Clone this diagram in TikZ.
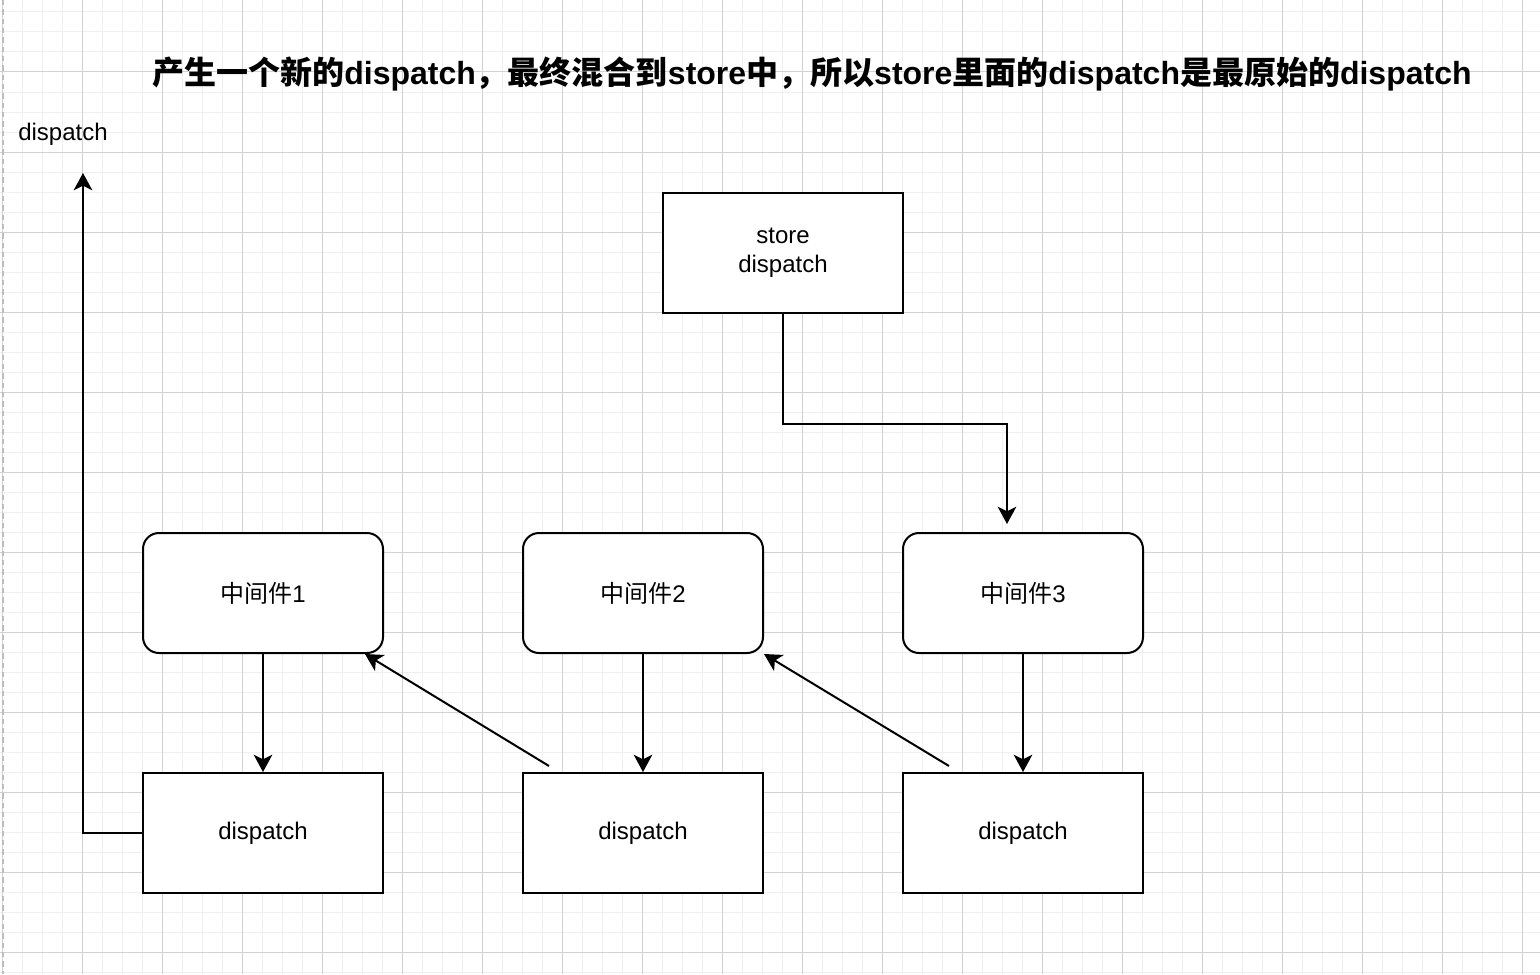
\documentclass[tikz,border=0pt]{standalone}
\usepackage{fontspec}
\setmainfont{Liberation Sans}
\newfontfamily\cjk{Noto Sans CJK SC}
\usetikzlibrary{arrows.meta}
\definecolor{gridminor}{HTML}{F0F0F0}
\definecolor{gridmajor}{HTML}{D2D2D2}
\definecolor{pageedge}{HTML}{BDBDBD}
\newcommand{\zh}[1]{{\cjk #1}}
\begin{document}
\begin{tikzpicture}[x=0.75pt,y=-0.75pt,
  box/.style={draw, line width=1.5pt, minimum width=180pt, minimum height=90pt,
    inner sep=0pt, font=\fontsize{18}{21.5}\selectfont, align=center, fill=white},
  mw/.style={box, rounded corners=12pt},
  arr/.style={line width=1.5pt, -{Stealth[length=13pt,width=14pt,inset=3.5pt]}},
  lbl/.style={font=\fontsize{18}{21.5}\selectfont, inner sep=0pt},
  ttl/.style={font=\fontsize{24}{28}\selectfont\bfseries, inner sep=0pt}
  ]
% background and grid
\fill[white] (0,0) rectangle (1540,974);
\useasboundingbox (0,0) rectangle (1540,974);
\foreach \x in {2,22,...,1540} \draw[gridminor, line width=0.75pt] (\x,0) -- (\x,974);
\foreach \y in {12,32,...,974} \draw[gridminor, line width=0.75pt] (0,\y) -- (1540,\y);
\foreach \x in {2,82,...,1540} \draw[gridmajor, line width=0.75pt] (\x,0) -- (\x,974);
\foreach \y in {72,152,...,974} \draw[gridmajor, line width=0.75pt] (0,\y) -- (1540,\y);
\draw[pageedge, line width=1.2pt, dash pattern=on 4pt off 3pt] (3,0) -- (3,974);

% title
\node[ttl] (title) at (812,74) {\zh{产生一个新的}dispatch\zh{，最终混合到}store\zh{中，所以}store\zh{里面的}dispatch\zh{是最原始的}dispatch};

% nodes
\node[box] (store) at (783,253) {store\\dispatch};
\node[mw] (mw1) at (263,593) {\zh{中间件}1};
\node[mw] (mw2) at (643,593) {\zh{中间件}2};
\node[mw] (mw3) at (1023,593) {\zh{中间件}3};
\node[box] (d1) at (263,833) {\raisebox{-1.5pt}{dispatch}};
\node[box] (d2) at (643,833) {\raisebox{-1.5pt}{dispatch}};
\node[box] (d3) at (1023,833) {\raisebox{-1.5pt}{dispatch}};
\node[lbl, anchor=west] (out) at (18,134) {dispatch};

% free ends
\coordinate (topend) at (83,173);
\coordinate (s3end) at (1007,524);
\coordinate (a1s) at (549,766);
\coordinate (a1e) at (365,654);
\coordinate (a2s) at (949,766);
\coordinate (a2e) at (764,654);

% connectors
\draw[arr] (store.south) -- ++(0,110) -| (s3end);
\draw[arr] (mw1.south) -- (d1.north);
\draw[arr] (mw2.south) -- (d2.north);
\draw[arr] (mw3.south) -- (d3.north);
\draw[arr] (a1s) -- (a1e);
\draw[arr] (a2s) -- (a2e);
\draw[arr] (d1.west) -| (topend);
\end{tikzpicture}
\end{document}
